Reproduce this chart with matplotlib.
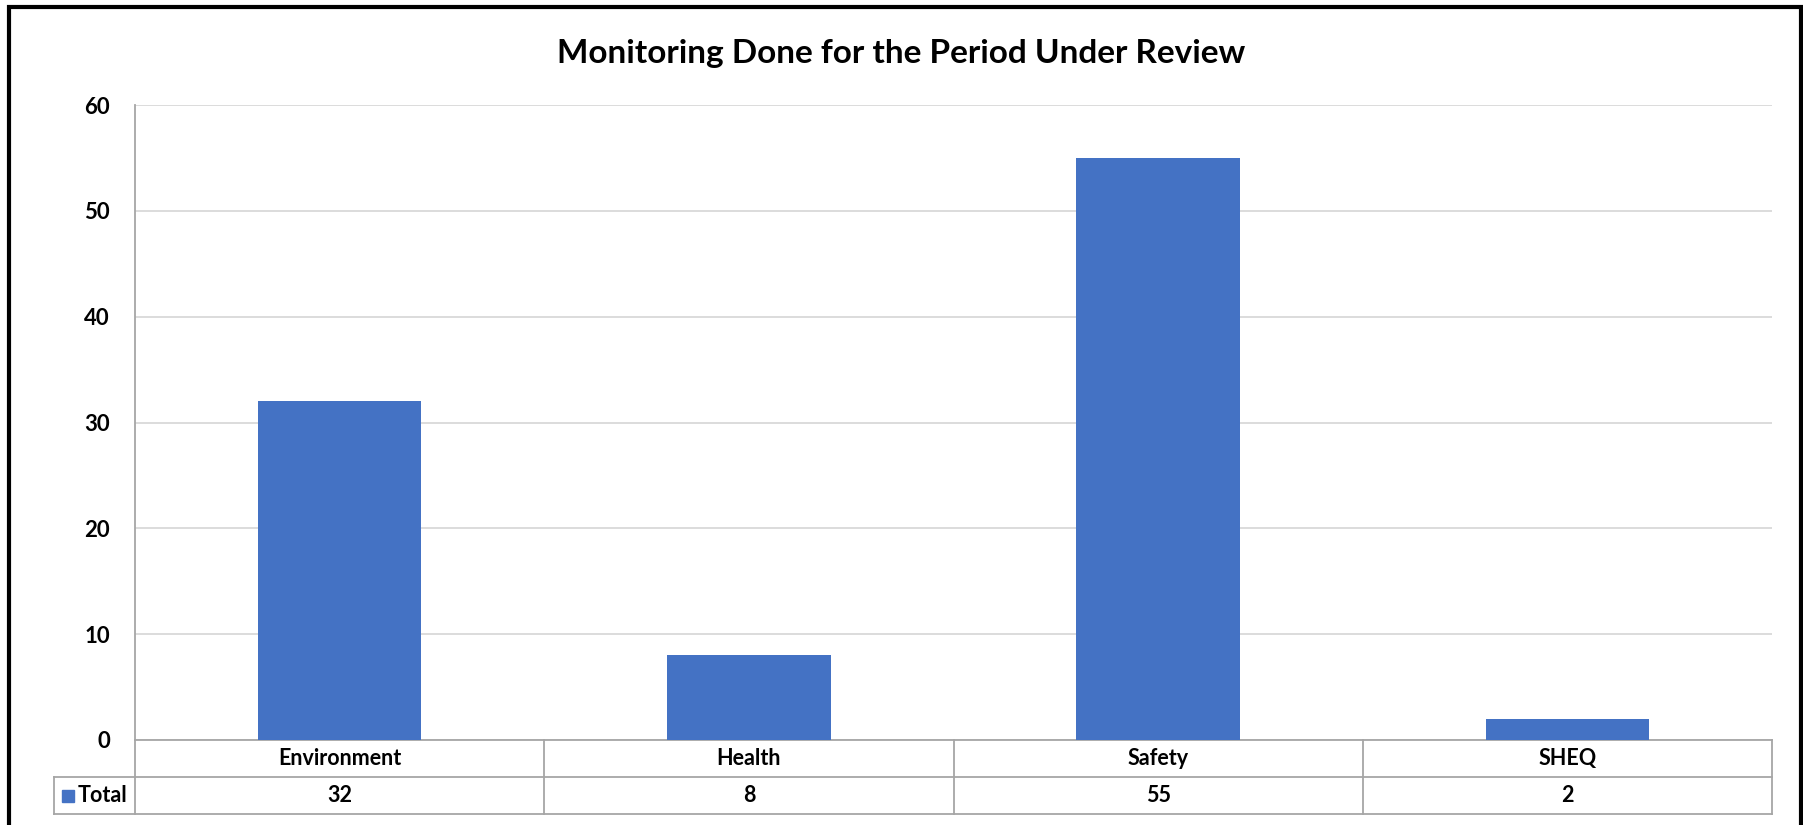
import matplotlib
matplotlib.use("Agg")
import matplotlib.pyplot as plt
import matplotlib.transforms as mtransforms
from matplotlib.patches import Rectangle

categories = ["Environment", "Health", "Safety", "SHEQ"]
totals = [32, 8, 55, 2]
series_name = "Total"
title = "Monitoring Done for the Period Under Review"

bar_color = "#4472C4"
grid_color = "#d9d9d9"
table_color = "#a6a6a6"

plt.rcParams['font.family'] = ['Lato', 'DejaVu Sans']

W, H = 1803, 825
fig = plt.figure(figsize=(W / 100, H / 100), dpi=100)
fig.patch.set_facecolor("white")

# plot area in pixels
left, right, top, zero = 135, 1772, 105, 740
ax = fig.add_axes([left / W, (H - zero) / H, (right - left) / W, (zero - top) / H])

x = list(range(len(categories)))
ax.bar(x, totals, width=0.4, color=bar_color, zorder=3)
ax.set_xlim(-0.5, len(categories) - 0.5)
ax.set_ylim(0, 60)
ax.set_yticks(range(0, 61, 10))
ax.yaxis.grid(True, color=grid_color, linewidth=1.3, zorder=0)
ax.set_xticks([])
ax.tick_params(axis="y", length=0, pad=18, labelsize=16)
for lab in ax.get_yticklabels():
    lab.set_fontweight("bold")
for s in ["top", "right", "bottom"]:
    ax.spines[s].set_visible(False)
ax.spines["left"].set_color(table_color)
ax.spines["left"].set_linewidth(1.3)

fig.text(0.5, (H - 54) / H, title, ha="center", va="center",
         fontsize=24, fontweight="bold")

# data table under the plot
blend = mtransforms.blended_transform_factory(ax.transData, fig.transFigure)
y0 = (H - zero) / H
y1 = (H - 777) / H
y2 = (H - 814) / H
xl, xr = -0.5, len(categories) - 0.5
hdr_left = ax.transData.inverted().transform((54, 0))[0]

def hline(xa, xb, y):
    ax.plot([xa, xb], [y, y], color=table_color, lw=1.3, transform=blend, clip_on=False)

def vline(xv, ya, yb):
    ax.plot([xv, xv], [ya, yb], color=table_color, lw=1.3, transform=blend, clip_on=False)

hline(xl, xr, y0)
hline(hdr_left, xr, y1)
hline(hdr_left, xr, y2)
vline(hdr_left, y1, y2)
for b in range(len(categories) + 1):
    vline(b - 0.5, y2, y0)

for i, (c, v) in enumerate(zip(categories, totals)):
    ax.text(i, (y0 + y1) / 2, c, ha="center", va="center", fontsize=15.5,
            fontweight="bold", transform=blend)
    ax.text(i, (y1 + y2) / 2, str(v), ha="center", va="center", fontsize=15.5,
            fontweight="bold", transform=blend)

# legend key + series name in the header cell
fig.patches.append(Rectangle((62 / W, (H - 802) / H), 12 / W, 12 / H,
                             transform=fig.transFigure, color=bar_color))
fig.text(78 / W, (H - 796) / H, series_name, ha="left", va="center",
         fontsize=15.5, fontweight="bold")

# outer chart border
fig.patches.append(Rectangle((9 / W, -0.1), (1801 - 9) / W, (H - 7) / H + 0.1,
                             transform=fig.transFigure, fill=False,
                             edgecolor="black", linewidth=3))

fig.savefig("out.png", dpi=100)
